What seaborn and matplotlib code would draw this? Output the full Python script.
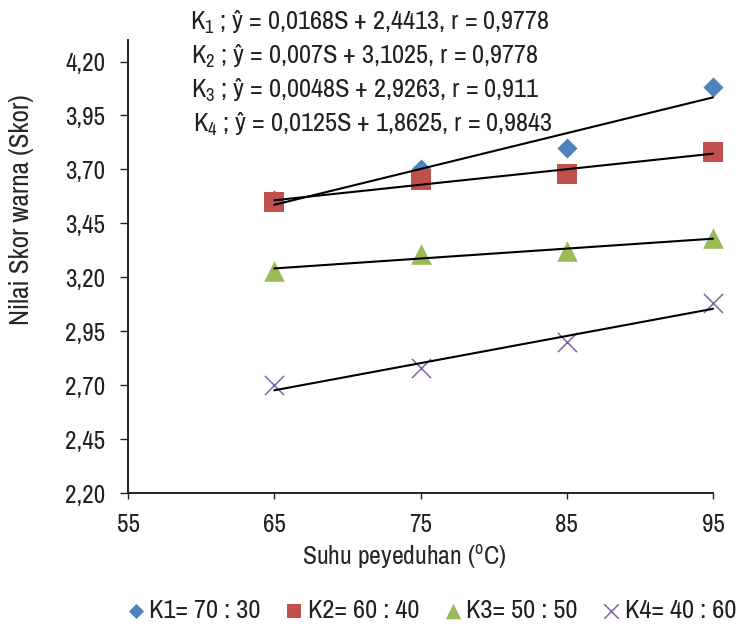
import matplotlib
matplotlib.use("Agg")
import matplotlib.pyplot as plt
import seaborn as sns
import pandas as pd

# data
suhu = [65, 75, 85, 95]
k1 = [3.56, 3.70, 3.80, 4.08]
k2 = [3.55, 3.65, 3.68, 3.78]
k3 = [3.23, 3.31, 3.32, 3.38]
k4 = [2.70, 2.78, 2.90, 3.08]

labels = ["K1= 70 : 30", "K2= 60 : 40", "K3= 50 : 50", "K4= 40 : 60"]
equations = [
    "K$_{1}$ ; ŷ = 0,0168S + 2,4413, r = 0,9778",
    "K$_{2}$ ; ŷ = 0,007S + 3,1025, r = 0,9778",
    "K$_{3}$ ; ŷ = 0,0048S + 2,9263, r = 0,911",
    "K$_{4}$ ; ŷ = 0,0125S + 1,8625, r = 0,9843",
]
y_ticks = [2.20, 2.45, 2.70, 2.95, 3.20, 3.45, 3.70, 3.95, 4.20]
x_ticks = [55, 65, 75, 85, 95]

colors = ["#4F81BD", "#C0504D", "#9BBB59", "#8064A2"]
markers = ["D", "s", "^", "x"]
sizes = [105, 200, 220, 190]

sns.set_style("white")
plt.rcParams["font.family"] = ["Archivo Narrow", "Liberation Sans", "DejaVu Sans"]
plt.rcParams["mathtext.default"] = "regular"
plt.rcParams["text.color"] = "#231f20"

fig = plt.figure(figsize=(7.43, 6.26), dpi=100)
ax = fig.add_axes([128 / 743, 1 - 493 / 626, 585 / 743, 453 / 626])

series = [k1, k2, k3, k4]
for vals, lab, col, mk, sz in zip(series, labels, colors, markers, sizes):
    df = pd.DataFrame({"suhu": suhu, "skor": vals})
    lw = 1.1 if mk == "x" else 0
    sns.scatterplot(data=df, x="suhu", y="skor", marker=mk, s=sz, color=col,
                    linewidth=lw, label=lab, ax=ax, zorder=3, legend=False,
                    clip_on=False)

# linear trendlines, like the Excel ones
for vals in series:
    sns.regplot(x=suhu, y=vals, scatter=False, ci=None, color="black",
                line_kws=dict(lw=1.5, zorder=5, clip_on=False), ax=ax)

ax.set_xlim(55, 95)
ax.set_ylim(2.20, 4.30)
ax.set_xticks(x_ticks)
ax.set_xticklabels([str(t) for t in x_ticks])
ax.set_yticks(y_ticks)
ax.set_yticklabels([f"{t:.2f}".replace(".", ",") for t in y_ticks])
ax.tick_params(axis="y", length=5.5, width=1.0, pad=11, labelsize=18, colors="#231f20",
               direction="out", left=True)
ax.tick_params(axis="x", length=4.3, width=1.0, pad=10, labelsize=18, colors="#231f20",
               direction="out", bottom=True)

sns.despine(ax=ax)
for side in ["left", "bottom"]:
    ax.spines[side].set_linewidth(1.4)
    ax.spines[side].set_color("#231f20")

ax.set_xlabel("Suhu peyeduhan ($^{o}$C)", fontsize=18.5)
ax.set_ylabel("Nilai Skor warna (Skor)", fontsize=19.5)
ax.xaxis.set_label_coords((404 - 128) / 585, (493 - 543) / 453)
ax.yaxis.set_label_coords((34 - 128) / 585, (493 - 210) / 453)

baselines = [30, 64, 98, 132]
lefts = [190, 191, 191, 193]
for eq, b, lx in zip(equations, baselines, lefts):
    fig.text(lx / 743, 1 - b / 626, eq, fontsize=19, ha="left", va="baseline")

handles, labs = ax.get_legend_handles_labels()
fig.legend(handles, labs, loc="center", bbox_to_anchor=(432 / 743, 1 - 610 / 626),
           ncol=4, frameon=False, fontsize=19, markerscale=0.75,
           handlelength=0.6, handletextpad=0.2, columnspacing=0.98)

fig.savefig("out.png", dpi=100)
